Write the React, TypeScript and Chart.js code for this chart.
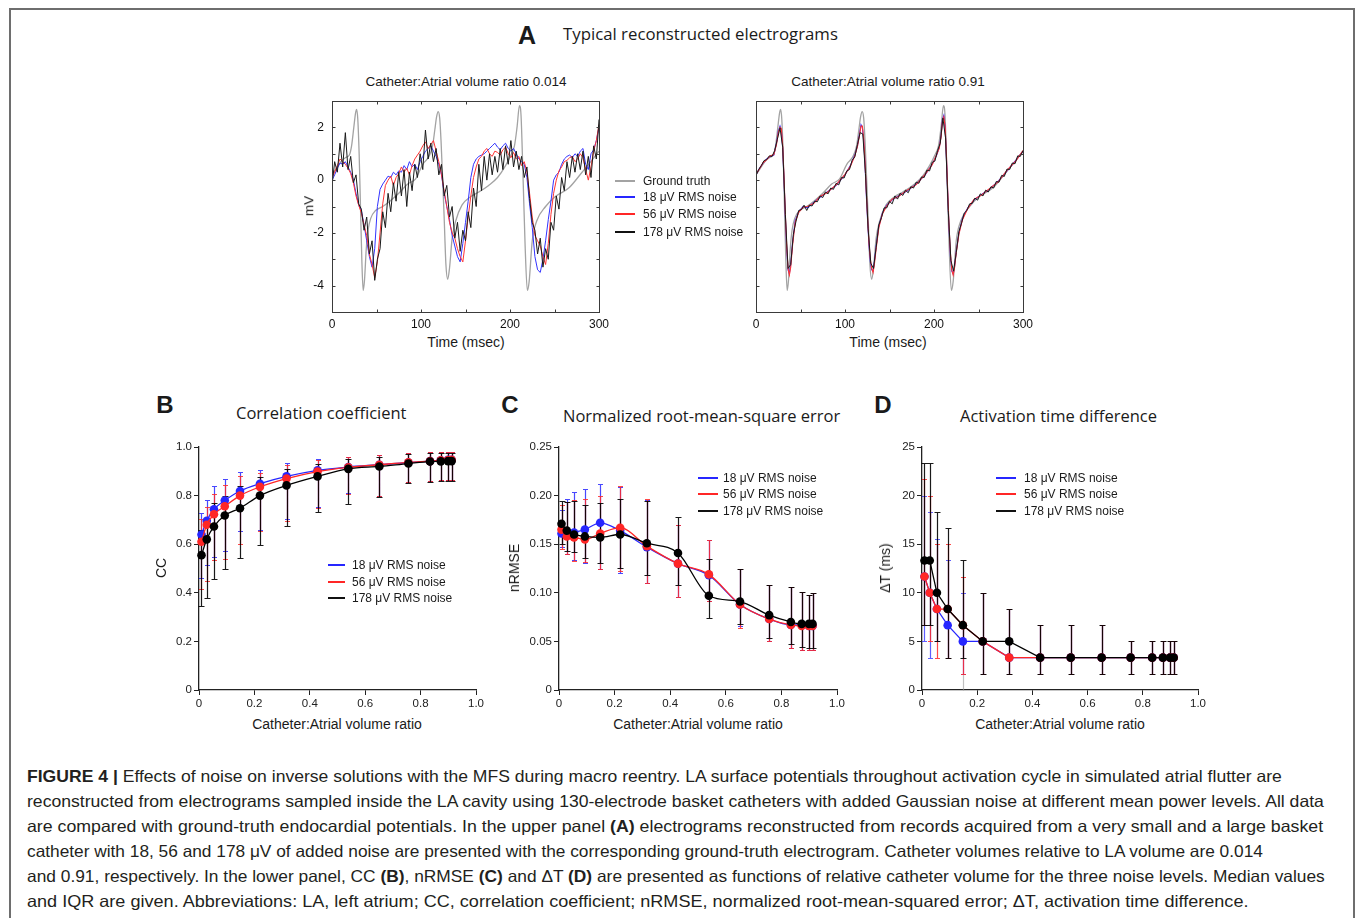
import React, { useEffect, useLayoutEffect, useRef } from "react";
import { Chart, registerables } from "chart.js";
Chart.register(...registerables);

const FONT = '"Liberation Sans", Arial, Helvetica, sans-serif';
const CAPTION_FONT = '"Liberation Sans Narrow", "Liberation Sans", Arial, sans-serif';
const TITLE_FONT = '"Open Sans", "Liberation Sans", Arial, sans-serif';
Chart.defaults.font.family = FONT;

// ---------------- Panel A data ----------------
const SAMPLE_STEP = 3; // ms
const T3 = Array.from({ length: 101 }, (_, i) => i * SAMPLE_STEP);

const gtT = [0, 5, 10, 15, 19.5, 22, 24.5, 26.5, 27.7, 29, 30.5, 32, 33.5, 35, 36.5, 38.5, 40.5, 43.5, 49, 57, 65, 75, 85, 94, 102, 109, 113, 115.5, 117.5, 119.3, 121, 122.5, 124, 126, 128, 130, 132, 135, 139, 146, 155, 165, 176, 186, 195, 201, 205, 208, 210.6, 212.4, 214.5, 217, 219.5, 221.5, 225, 230, 240, 251, 266, 281, 292, 300];
const gtV = [0.2, 0.45, 0.7, 0.85, 0.95, 1.3, 2.0, 2.55, 2.68, 2.3, 1.0, -1.0, -3.0, -4.18, -3.8, -2.6, -1.9, -1.45, -1.15, -1.0, -0.8, -0.5, -0.15, 0.05, 0.6, 0.9, 1.3, 1.9, 2.4, 2.6, 2.35, 1.5, 0.3, -1.4, -3.2, -3.76, -3.35, -2.2, -1.55, -0.95, -0.65, -0.45, -0.2, 0.1, 0.55, 0.95, 1.3, 2.03, 2.82, 2.45, 0.3, -2.5, -4.18, -3.85, -2.3, -1.55, -1.0, -0.62, -0.3, 0.3, 0.75, 1.1];

// small catheter (0.014), sampled every 3 ms
const blueL = [
  0.0, 0.2, 0.45, 0.65, 0.6, 0.7, 0.5, 0.3, 0.0, -0.5,
  -0.95, -1.15, -1.7, -2.3, -2.9, -3.3, -2.6, -1.0, -0.35, -0.15,
  0.0, 0.15, 0.1, 0.3, 0.2, 0.35, 0.3, 0.55, 0.4, 0.7,
  0.5, 0.6, 0.4, 0.7, 0.9, 1.1, 1.2, 1.3, 1.1, 0.9,
  0.6, 0.2, -0.5, -1.0, -1.5, -2.1, -2.5, -2.9, -3.1, -2.4,
  -1.6, -0.8, 0.1, 0.6, 0.8, 0.9, 0.95, 1.0, 1.1, 1.2,
  1.3, 1.4, 1.25, 1.15, 1.3, 1.4, 1.2, 1.1, 1.2, 1.0,
  0.8, 0.7, 0.6, 0.1, -0.9, -1.8, -2.9, -3.4, -3.5, -3.0,
  -2.3, -1.5, -0.8, 0.0, 0.2, 0.3, 0.6, 0.8, 0.9, 0.95,
  0.85, 1.0, 0.9, 1.1, 1.2, 0.6, 0.4, 1.0, 1.15, 1.5,
  2.0,
];
const redL = [
  0.1, 0.3, 0.55, 0.8, 0.7, 0.6, 0.45, 0.25, -0.1, -0.6,
  -0.95, -1.25, -1.7, -2.1, -2.8, -3.2, -3.7, -3.1, -2.0, -0.9,
  -0.2, 0.0, 0.15, -0.2, 0.1, 0.25, 0.5, 0.3, 0.45, 0.2,
  0.55, 0.8, 0.95, 1.1, 1.3, 1.45, 1.2, 1.35, 1.5, 1.1,
  0.7, 0.2, -0.4, -1.0, -1.6, -2.0, -2.2, -2.6, -2.9, -3.1,
  -2.3, -1.4, -0.6, 0.1, 0.5, 0.8, 0.9, 1.1, 1.2, 1.0,
  0.9, 1.1, 1.05, 0.95, 1.15, 1.25, 1.0, 0.85, 1.05, 0.8,
  0.9, 0.55, 0.7, 0.3, -0.5, -1.4, -2.1, -2.3, -2.5, -2.9,
  -3.2, -2.4, -1.3, -0.5, 0.0, 0.35, 0.5, 0.7, 0.75, 0.85,
  0.9, 0.7, 0.8, 1.0, 0.85, 0.4, 0.0, 0.5, 1.1, 1.5,
  2.1,
];
const blackL = [
  -0.2, 0.7, 0.3, 1.4, 0.5, 1.8, 0.4, 0.9, -0.1, 0.2,
  -0.9, -1.1, -1.9, -1.4, -2.8, -2.3, -3.8, -3.0, -2.6, -1.2,
  -1.8, -0.5, -1.2, -0.1, -0.8, 0.3, -0.6, 0.4, -1.0, 0.3,
  -0.4, 0.6, 0.1, 1.0, 0.4, 1.9, 0.8, 1.4, 0.7, 1.2,
  0.2, 0.6, -0.6, -0.2, -1.4, -1.0, -2.2, -1.6, -2.7, -1.9,
  -2.3, -1.2, -1.8, -0.3, -1.0, 0.6, -0.4, 0.9, 0.0, 1.0,
  0.2, 0.9, 0.3, 1.2, 0.4, 1.3, 0.6, 1.5, 0.5, 1.1,
  0.4, 0.9, 0.1, 0.5, -0.7, -1.6, -1.9, -2.8, -2.2, -3.3,
  -2.6, -3.0, -1.6, -1.9, -0.6, -1.1, 0.1, -0.4, 0.7, 0.1,
  0.9, 0.3, 1.0, 0.4, 1.1, 0.2, 0.9, 0.1, 1.3, 0.8,
  2.3,
];

// large catheter (0.91)
const rightT = [
  0, 4, 8, 12, 16, 20, 23, 25, 27, 28.5,
  30, 31.5, 33, 34.5, 36, 37.5, 39, 41, 44, 48,
  53, 58, 65, 72, 80, 90, 100, 106, 111, 114,
  116, 118, 119.5, 121, 122.5, 124, 125.5, 127, 128.5, 130,
  131.5, 133, 135, 138, 142, 147, 153, 160, 170, 180,
  190, 198, 203, 206, 208, 209.5, 211, 212.5, 214, 215.5,
  217, 218.5, 220, 221.5, 223, 225, 228, 232, 238, 245,
  253, 262, 272, 282, 292, 300,
];
const blueR = [
  0.2, 0.45, 0.65, 0.8, 0.9, 0.95, 1.4, 1.85, 2.05, 1.9,
  1.2, 0.0, -1.4, -2.6, -3.4, -3.55, -3.2, -2.4, -1.55, -1.2,
  -1.0, -1.05, -0.85, -0.65, -0.45, -0.2, 0.2, 0.55, 0.95, 1.3,
  1.7, 2.1, 2.0, 1.5, 0.6, -0.6, -1.6, -2.5, -3.1, -3.4,
  -3.45, -3.1, -2.5, -1.75, -1.25, -0.95, -0.75, -0.6, -0.4, -0.15,
  0.2, 0.6, 0.95, 1.25, 1.7, 2.3, 2.45, 2.0, 0.8, -0.6,
  -1.9, -2.9, -3.45, -3.55, -3.3, -2.7, -2.0, -1.45, -1.05, -0.75,
  -0.55, -0.35, -0.05, 0.35, 0.75, 1.1,
];
const redR = [
  0.22, 0.43, 0.66, 0.78, 0.92, 0.97, 1.35, 1.8, 2.0, 1.95,
  1.3, 0.1, -1.3, -2.5, -3.35, -3.6, -3.3, -2.5, -1.6, -1.22,
  -1.02, -1.0, -0.88, -0.62, -0.47, -0.18, 0.22, 0.52, 0.92, 1.28,
  1.65, 2.05, 2.05, 1.6, 0.7, -0.5, -1.5, -2.4, -3.0, -3.35,
  -3.5, -3.2, -2.6, -1.8, -1.28, -0.97, -0.72, -0.62, -0.38, -0.17,
  0.22, 0.58, 0.97, 1.22, 1.65, 2.25, 2.4, 2.05, 0.9, -0.5,
  -1.8, -2.8, -3.4, -3.6, -3.35, -2.75, -2.05, -1.5, -1.07, -0.73,
  -0.57, -0.33, -0.07, 0.37, 0.73, 1.12,
];
const blackR = [
  0.18, 0.4, 0.55, 0.74, 0.78, 0.92, 0.9, 1.12, 1.55, 1.98,
  1.25, -1.3, -3.35, -3.2, -2.05, -1.55, -1.15, -1.12, -0.95, -1.15,
  -0.95, -0.98, -0.8, -0.82, -0.6, -0.66, -0.45, -0.52, -0.3, -0.35,
  -0.12, -0.18, 0.1, 0.08, 0.35, 0.4, 0.75, 0.88, 1.35, 1.8,
  1.75, 0.25, -1.85, -3.15, -3.35, -2.55, -1.7, -1.42, -1.05, -1.05,
  -0.8, -0.9, -0.6, -0.72, -0.5, -0.58, -0.38, -0.48, -0.25, -0.3,
  -0.08, -0.12, 0.12, 0.1, 0.38, 0.35, 0.68, 0.72, 1.12, 1.4,
  2.35, 1.6, -1.15, -3.05, -3.45, -2.75, -1.95, -1.62, -1.25, -1.15,
  -0.9, -0.88, -0.68, -0.76, -0.52, -0.6, -0.38, -0.45, -0.25, -0.3,
  -0.05, -0.08, 0.18, 0.14, 0.42, 0.4, 0.65, 0.62, 0.92, 0.9,
  1.12,
];
const topXTicks = [0, 50, 100, 150, 200, 250, 300];
const topYTicks = [-5, -4, -3, -2, -1, 0, 1, 2, 3];

// ---------------- Panels B, C, D data ----------------
const volRatio = [0.009, 0.028, 0.054, 0.093, 0.148, 0.22, 0.316, 0.428, 0.539, 0.651, 0.756, 0.834, 0.873, 0.899, 0.912];

const ccBlue = [0.64, 0.696, 0.744, 0.78, 0.819, 0.849, 0.879, 0.904, 0.918, 0.927, 0.936, 0.942, 0.945, 0.947, 0.947];
const ccRed = [0.61, 0.68, 0.723, 0.756, 0.8, 0.836, 0.87, 0.899, 0.916, 0.927, 0.937, 0.942, 0.945, 0.946, 0.947];
const ccBlack = [0.555, 0.62, 0.673, 0.718, 0.748, 0.8, 0.842, 0.879, 0.91, 0.92, 0.932, 0.94, 0.941, 0.942, 0.942];
const ccBlueLo = [0.46, 0.515, 0.548, 0.57, 0.653, 0.66, 0.705, 0.755, 0.81, 0.8, 0.855, 0.86, 0.865, 0.865, 0.865];
const ccBlueHi = [0.73, 0.78, 0.838, 0.87, 0.897, 0.905, 0.935, 0.95, 0.96, 0.968, 0.975, 0.98, 0.98, 0.98, 0.98];
const ccRedLo = [0.415, 0.45, 0.535, 0.54, 0.6, 0.655, 0.695, 0.75, 0.805, 0.8, 0.855, 0.86, 0.865, 0.865, 0.865];
const ccRedHi = [0.705, 0.755, 0.805, 0.845, 0.88, 0.895, 0.925, 0.945, 0.958, 0.968, 0.975, 0.98, 0.98, 0.98, 0.98];
const ccBlackLo = [0.347, 0.38, 0.455, 0.5, 0.545, 0.595, 0.673, 0.733, 0.765, 0.795, 0.85, 0.858, 0.862, 0.862, 0.862];
const ccBlackHi = [0.66, 0.7, 0.77, 0.8, 0.84, 0.878, 0.91, 0.93, 0.95, 0.96, 0.97, 0.975, 0.975, 0.975, 0.975];

const nrBlue = [0.161, 0.159, 0.162, 0.165, 0.172, 0.164, 0.147, 0.13, 0.118, 0.088, 0.073, 0.067, 0.067, 0.066, 0.066];
const nrRed = [0.165, 0.158, 0.157, 0.155, 0.161, 0.167, 0.148, 0.13, 0.119, 0.088, 0.073, 0.067, 0.066, 0.066, 0.066];
const nrBlack = [0.171, 0.164, 0.16, 0.158, 0.157, 0.16, 0.151, 0.141, 0.097, 0.091, 0.077, 0.07, 0.068, 0.068, 0.068];
const nrBlueLo = [0.147, 0.14, 0.134, 0.131, 0.125, 0.12, 0.11, 0.096, 0.092, 0.066, 0.05, 0.043, 0.041, 0.041, 0.041];
const nrBlueHi = [0.185, 0.197, 0.204, 0.207, 0.212, 0.209, 0.195, 0.17, 0.154, 0.125, 0.108, 0.106, 0.101, 0.098, 0.1];
const nrRedLo = [0.145, 0.14, 0.133, 0.132, 0.125, 0.122, 0.11, 0.096, 0.092, 0.064, 0.05, 0.043, 0.041, 0.041, 0.041];
const nrRedHi = [0.19, 0.193, 0.195, 0.196, 0.2, 0.21, 0.196, 0.17, 0.154, 0.125, 0.108, 0.106, 0.101, 0.098, 0.1];
const nrBlackLo = [0.15, 0.143, 0.142, 0.136, 0.131, 0.126, 0.118, 0.108, 0.074, 0.068, 0.054, 0.047, 0.044, 0.043, 0.043];
const nrBlackHi = [0.194, 0.193, 0.194, 0.19, 0.192, 0.197, 0.194, 0.178, 0.135, 0.125, 0.108, 0.106, 0.101, 0.098, 0.1];

const dtBlue = [11.67, 10, 8.33, 6.67, 5, 5, 3.33, 3.33, 3.33, 3.33, 3.33, 3.33, 3.33, 3.33, 3.33];
const dtRed = [11.67, 10, 8.33, 8.33, 6.67, 5, 3.33, 3.33, 3.33, 3.33, 3.33, 3.33, 3.33, 3.33, 3.33];
const dtBlack = [13.33, 13.33, 10, 8.33, 6.67, 5, 5, 3.33, 3.33, 3.33, 3.33, 3.33, 3.33, 3.33, 3.33];
const dtBlueLo = [5, 3.33, 5, 3.33, 1.67, 1.67, 1.67, 1.67, 1.67, 1.67, 1.67, 1.67, 1.67, 1.67, 1.67];
const dtBlueHi = [20, 18.33, 15.5, 13.33, 10, 10, 8.33, 6.67, 6.67, 6.67, 5, 5, 5, 5, 5];
const dtRedLo = [6.67, 5, 3.33, 3.33, 1.67, 1.67, 1.67, 1.67, 1.67, 1.67, 1.67, 1.67, 1.67, 1.67, 1.67];
const dtRedHi = [21.67, 20, 15, 15, 11.67, 10, 8.33, 6.67, 6.67, 6.67, 5, 5, 5, 5, 5];
const dtBlackLo = [6.67, 6.67, 5, 3.33, 3.33, 1.67, 1.67, 1.67, 1.67, 1.67, 1.67, 1.67, 1.67, 1.67, 1.67];
const dtBlackHi = [23.33, 23.33, 18.33, 16.67, 13.33, 10, 8.33, 6.67, 6.67, 6.67, 5, 5, 5, 5, 5];
// faint whisker of the 18 µV series reaching zero at ratio 0.148
const dtFaintX = [0.148];
const dtFaintLo = [0];
const dtFaintHi = [1.67];

const noiseLabels = ["18 μV RMS noise", "56 μV RMS noise", "178 μV RMS noise"];

// ---------------- styles ----------------
const C_BLUE = "#2626ff";
const C_RED = "#ff2626";
const C_BLACK = "#000000";
const C_GRAY = "#a3a3a3";
const TXT = "#1a1a1a";

// ---------------- helpers ----------------
function pts(xs: number[], ys: number[]) {
  return xs.map((x, i) => ({ x, y: ys[i] }));
}

function framePlugin(xt: number[], yt: number[]) {
  return {
    id: "frameTicks",
    afterDraw(chart: any) {
      const { ctx, chartArea: a, scales } = chart;
      const x = scales.x, y = scales.y;
      ctx.save();
      ctx.strokeStyle = "#3a3a3a";
      ctx.lineWidth = 1;
      const L = Math.round(a.left) + 0.5, R = Math.round(a.right) + 0.5;
      const T = Math.round(a.top) + 0.5, B = Math.round(a.bottom) + 0.5;
      ctx.strokeRect(L, T, R - L, B - T);
      ctx.beginPath();
      for (const v of xt) {
        const px = Math.round(x.getPixelForValue(v)) + 0.5;
        ctx.moveTo(px, B); ctx.lineTo(px, B - 3);
        ctx.moveTo(px, T); ctx.lineTo(px, T + 3);
      }
      for (const v of yt) {
        const py = Math.round(y.getPixelForValue(v)) + 0.5;
        ctx.moveTo(L, py); ctx.lineTo(L + 3, py);
        ctx.moveTo(R, py); ctx.lineTo(R - 3, py);
      }
      ctx.stroke();
      ctx.restore();
    },
  };
}

type Bar = { color: string; xs: number[]; low: number[]; high: number[]; cap: number };
function errPlugin(bars: Bar[]) {
  return {
    id: "errBars",
    beforeDatasetsDraw(chart: any) {
      const { ctx, scales } = chart;
      const x = scales.x, y = scales.y;
      ctx.save();
      ctx.lineWidth = 1.2;
      for (const b of bars) {
        ctx.strokeStyle = b.color;
        ctx.beginPath();
        b.xs.forEach((xv, i) => {
          const px = Math.round(x.getPixelForValue(xv)) + 0.5;
          const lo = Math.round(y.getPixelForValue(b.low[i])) + 0.5;
          const hi = Math.round(y.getPixelForValue(b.high[i])) + 0.5;
          ctx.moveTo(px, lo); ctx.lineTo(px, hi);
          if (b.cap > 0) {
            ctx.moveTo(px - b.cap, lo); ctx.lineTo(px + b.cap, lo);
            ctx.moveTo(px - b.cap, hi); ctx.lineTo(px + b.cap, hi);
          }
        });
        ctx.stroke();
      }
      ctx.restore();
    },
  };
}

function topScales(showY: boolean, wy: number) {
  const font = { size: 12, family: FONT };
  return {
    x: {
      type: "linear", min: 0, max: 300,
      afterFit: (s: any) => { s.height = 22; },
      grid: { display: false, drawTicks: true, tickLength: 5 }, border: { display: false },
      ticks: { stepSize: 100, autoSkip: false, maxRotation: 0, font, color: "#111", padding: 0 },
    },
    y: {
      type: "linear", min: -5, max: 3,
      afterFit: (s: any) => { s.width = wy; },
      grid: { display: false, drawTicks: true, tickLength: 8 }, border: { display: false },
      ticks: {
        display: showY, stepSize: 1, autoSkip: false, font, color: "#111", padding: 0,
        callback: (v: any) => (Math.round(Number(v)) % 2 === 0 ? String(Math.round(Number(v))) : ""),
      },
    },
  };
}

function bottomScales(ymax: number, ystep: number, yfmt: (v: number) => string, wy: number) {
  const font = { size: 11.5, family: FONT };
  const grid = { display: true, drawOnChartArea: false, drawTicks: true, tickLength: 5, color: "#222", lineWidth: 1 };
  const border = { display: true, color: "#222", width: 1.3 };
  return {
    x: {
      type: "linear", min: 0, max: 1,
      afterFit: (s: any) => { s.height = 25; },
      grid, border,
      ticks: {
        stepSize: 0.2, autoSkip: false, maxRotation: 0, font, color: "#222", padding: 2,
        callback: (v: any) => (Number(v) === 0 ? "0" : Number(v).toFixed(1)),
      },
    },
    y: {
      type: "linear", min: 0, max: ymax,
      afterFit: (s: any) => { s.width = wy; },
      grid, border,
      ticks: { stepSize: ystep, autoSkip: false, font, color: "#222", padding: 2, callback: (v: any) => yfmt(Number(v)) },
    },
  };
}

function traceDS(label: string, data: any[], color: string, width: number, smooth = false) {
  return {
    label, data, borderColor: color, backgroundColor: color, borderWidth: width,
    pointRadius: 0, tension: 0, cubicInterpolationMode: smooth ? "monotone" : "default",
  };
}

function markDS(label: string, ys: number[], color: string, smooth: boolean) {
  return {
    label, data: pts(volRatio, ys), borderColor: color, backgroundColor: color, borderWidth: 1.3,
    pointRadius: 4.3, pointHoverRadius: 4.3, pointBorderWidth: 0, tension: 0,
    cubicInterpolationMode: smooth ? "monotone" : "default", clip: false,
  };
}

function baseOptions(scales: any, padTop: number) {
  return {
    responsive: false, animation: false, devicePixelRatio: 1,
    events: [],
    layout: { padding: { left: 0, right: 14, top: padTop, bottom: 0 } },
    plugins: { legend: { display: false }, tooltip: { enabled: false } },
    scales,
  };
}

function ChartBox(props: { left: number; top: number; width: number; height: number; make: () => any }) {
  const ref = useRef<HTMLCanvasElement>(null);
  useEffect(() => {
    const chart = new Chart(ref.current as HTMLCanvasElement, props.make());
    return () => chart.destroy();
  }, []);
  return (
    <canvas
      ref={ref}
      width={props.width}
      height={props.height}
      style={{ position: "absolute", left: props.left, top: props.top, width: props.width, height: props.height }}
    />
  );
}

function Txt(props: { x: number; y: number; children: any; size?: number; bold?: boolean; family?: string; anchor?: "center" | "left"; rotate?: boolean }) {
  const { x, y, size = 14, bold = false, family = FONT, anchor = "center", rotate = false } = props;
  const tx = anchor === "center" ? "-50%" : "0";
  return (
    <div
      style={{
        position: "absolute", left: x, top: y, whiteSpace: "nowrap", lineHeight: 1,
        fontFamily: family, fontSize: size, fontWeight: bold ? 700 : 400, color: TXT,
        transform: `translate(${tx}, -50%)${rotate ? " rotate(-90deg)" : ""}`,
        transformOrigin: anchor === "center" ? "center" : "left center",
      }}
    >
      {props.children}
    </div>
  );
}

function Legend(props: { lineX: number; lineW: number; textX: number; rows: { label: string; color: string; y: number }[] }) {
  return (
    <>
      {props.rows.map((r, i) => (
        <React.Fragment key={i}>
          <div style={{ position: "absolute", left: props.lineX, top: Math.round(r.y) - 1, width: props.lineW, height: 2, background: r.color }} />
          <div style={{ position: "absolute", left: props.textX, top: r.y - 8, height: 16, lineHeight: "16px", fontFamily: FONT, fontSize: 12, color: TXT, whiteSpace: "nowrap" }}>
            {r.label}
          </div>
        </React.Fragment>
      ))}
    </>
  );
}

const CAPTION_LEFT = 27;
const CAPTION_RIGHT = [1282, 1324, 1323, 1263, 1325, 1249];
const CAPTION_Y = [776, 801, 826, 851, 876, 901];

export default function App() {
  const capRefs = useRef<(HTMLDivElement | null)[]>([]);
  useLayoutEffect(() => {
    capRefs.current.forEach((el, i) => {
      if (!el) return;
      const w = el.offsetWidth;
      if (w > 0) el.style.transform = `scaleX(${(CAPTION_RIGHT[i] - CAPTION_LEFT) / w})`;
    });
  }, []);

  const makeTL = () => ({
    type: "line",
    data: {
      datasets: [
        traceDS("178 μV RMS noise", pts(T3, blackL), "#1a1a1a", 1),
        traceDS("56 μV RMS noise", pts(T3, redL), "#ff3333", 1),
        traceDS("18 μV RMS noise", pts(T3, blueL), "#3333ff", 1),
        traceDS("Ground truth", pts(gtT, gtV), C_GRAY, 1.3, true),
      ],
    },
    options: baseOptions(topScales(true, 42), 9) as any,
    plugins: [framePlugin(topXTicks, topYTicks)],
  });

  const makeTR = () => ({
    type: "line",
    data: {
      datasets: [
        traceDS("178 μV RMS noise", pts(T3, blackR), "#1a1a1a", 1),
        traceDS("56 μV RMS noise", pts(rightT, redR), "#ff3333", 1.1),
        traceDS("18 μV RMS noise", pts(rightT, blueR), "#3333ff", 1.1),
        traceDS("Ground truth", pts(gtT, gtV), C_GRAY, 1.3, true),
      ],
    },
    options: baseOptions(topScales(false, 16), 9) as any,
    plugins: [framePlugin(topXTicks, topYTicks)],
  });

  const makeB = () => ({
    type: "line",
    data: {
      datasets: [
        markDS(noiseLabels[2], ccBlack, C_BLACK, true),
        markDS(noiseLabels[1], ccRed, C_RED, true),
        markDS(noiseLabels[0], ccBlue, C_BLUE, true),
      ],
    },
    options: baseOptions(bottomScales(1, 0.2, (v) => (v === 0 ? "0" : v.toFixed(1)), 54), 11),
    plugins: [
      errPlugin([
        { color: "rgba(40,40,255,0.85)", xs: volRatio, low: ccBlueLo, high: ccBlueHi, cap: 2.5 },
        { color: "rgba(255,40,40,0.85)", xs: volRatio, low: ccRedLo, high: ccRedHi, cap: 2.5 },
        { color: "rgba(0,0,0,0.9)", xs: volRatio, low: ccBlackLo, high: ccBlackHi, cap: 3 },
      ]),
    ],
  });

  const makeC = () => ({
    type: "line",
    data: {
      datasets: [
        markDS(noiseLabels[2], nrBlack, C_BLACK, true),
        markDS(noiseLabels[1], nrRed, C_RED, true),
        markDS(noiseLabels[0], nrBlue, C_BLUE, true),
      ],
    },
    options: baseOptions(bottomScales(0.25, 0.05, (v) => (v === 0 ? "0" : v.toFixed(2)), 59), 11),
    plugins: [
      errPlugin([
        { color: "rgba(40,40,255,0.85)", xs: volRatio, low: nrBlueLo, high: nrBlueHi, cap: 2.5 },
        { color: "rgba(255,40,40,0.85)", xs: volRatio, low: nrRedLo, high: nrRedHi, cap: 2.5 },
        { color: "rgba(0,0,0,0.9)", xs: volRatio, low: nrBlackLo, high: nrBlackHi, cap: 3 },
      ]),
    ],
  });

  const makeD = () => ({
    type: "line",
    data: {
      datasets: [
        markDS(noiseLabels[2], dtBlack, C_BLACK, false),
        markDS(noiseLabels[1], dtRed, C_RED, false),
        markDS(noiseLabels[0], dtBlue, C_BLUE, false),
      ],
    },
    options: baseOptions(bottomScales(25, 5, (v) => String(Math.round(v)), 57), 11),
    plugins: [
      errPlugin([
        { color: "rgba(150,150,150,0.6)", xs: dtFaintX, low: dtFaintLo, high: dtFaintHi, cap: 0 },
        { color: "rgba(40,40,255,0.75)", xs: volRatio, low: dtBlueLo, high: dtBlueHi, cap: 2.5 },
        { color: "rgba(255,40,40,0.85)", xs: volRatio, low: dtRedLo, high: dtRedHi, cap: 2.5 },
        { color: "rgba(0,0,0,0.9)", xs: volRatio, low: dtBlackLo, high: dtBlackHi, cap: 3 },
      ]),
    ],
  });

  const legendRows = (ys: number[]) => [
    { label: noiseLabels[0], color: C_BLUE, y: ys[0] },
    { label: noiseLabels[1], color: C_RED, y: ys[1] },
    { label: noiseLabels[2], color: "#111", y: ys[2] },
  ];

  const bold = (s: string) => <span style={{ fontWeight: 700 }}>{s}</span>;
  const captionLines: any[] = [
    <>{bold("FIGURE 4 | ")}Effects of noise on inverse solutions with the MFS during macro reentry. LA surface potentials throughout activation cycle in simulated atrial flutter are</>,
    <>reconstructed from electrograms sampled inside the LA cavity using 130-electrode basket catheters with added Gaussian noise at different mean power levels. All data</>,
    <>are compared with ground-truth endocardial potentials. In the upper panel {bold("(A)")} electrograms reconstructed from records acquired from a very small and a large basket</>,
    <>catheter with 18, 56 and 178 μV of added noise are presented with the corresponding ground-truth electrogram. Catheter volumes relative to LA volume are 0.014</>,
    <>and 0.91, respectively. In the lower panel, CC {bold("(B)")}, nRMSE {bold("(C)")} and ΔT {bold("(D)")} are presented as functions of relative catheter volume for the three noise levels. Median values</>,
    <>and IQR are given. Abbreviations: LA, left atrium; CC, correlation coefficient; nRMSE, normalized root-mean-squared error; ΔT, activation time difference.</>,
  ];

  return (
    <div style={{ position: "absolute", left: 0, top: 0, width: 1355, height: 918, overflow: "hidden", background: "#fff" }}>
      <div style={{ position: "absolute", left: 9, top: 8, width: 1346, height: 1000, boxSizing: "border-box", borderTop: "2px solid #6e6e6e", borderLeft: "2px solid #6e6e6e", borderRight: "2px solid #6e6e6e" }} />

      {/* Panel A */}
      <Txt x={527} y={35} size={25} bold>A</Txt>
      <Txt x={563} y={34} size={16.8} family={TITLE_FONT} anchor="left">Typical reconstructed electrograms</Txt>
      <Txt x={466} y={82} size={13.5}>Catheter:Atrial volume ratio 0.014</Txt>
      <Txt x={888} y={82} size={13.5}>Catheter:Atrial volume ratio 0.91</Txt>
      <ChartBox left={290} top={92} width={323} height={242} make={makeTL} />
      <ChartBox left={740} top={92} width={297} height={242} make={makeTR} />
      <Txt x={309} y={206} size={13.5} rotate>mV</Txt>
      <Txt x={466} y={342} size={14}>Time (msec)</Txt>
      <Txt x={888} y={342} size={14}>Time (msec)</Txt>
      <Legend
        lineX={615} lineW={20} textX={643}
        rows={[
          { label: "Ground truth", color: C_GRAY, y: 180.7 },
          { label: noiseLabels[0], color: C_BLUE, y: 197.3 },
          { label: noiseLabels[1], color: C_RED, y: 214 },
          { label: noiseLabels[2], color: "#111", y: 231.7 },
        ]}
      />

      {/* Panel B */}
      <Txt x={165} y={405} size={24} bold>B</Txt>
      <Txt x={236} y={413} size={16.5} family={TITLE_FONT} anchor="left">Correlation coefficient</Txt>
      <ChartBox left={145} top={436} width={345} height={279} make={makeB} />
      <Txt x={161} y={568} size={14} rotate>CC</Txt>
      <Txt x={337} y={724} size={14}>Catheter:Atrial volume ratio</Txt>
      <Legend lineX={328} lineW={17} textX={352} rows={legendRows([565, 581.7, 598.3])} />

      {/* Panel C */}
      <Txt x={510} y={405} size={24} bold>C</Txt>
      <Txt x={563} y={416} size={16.5} family={TITLE_FONT} anchor="left">Normalized root-mean-square error</Txt>
      <ChartBox left={500} top={436} width={351} height={279} make={makeC} />
      <Txt x={514} y={568} size={14} rotate>nRMSE</Txt>
      <Txt x={698} y={724} size={14}>Catheter:Atrial volume ratio</Txt>
      <Legend lineX={698} lineW={20} textX={723} rows={legendRows([477.7, 494, 511.3])} />

      {/* Panel D */}
      <Txt x={883} y={405} size={24} bold>D</Txt>
      <Txt x={960} y={416} size={16.5} family={TITLE_FONT} anchor="left">Activation time difference</Txt>
      <ChartBox left={865} top={436} width={347} height={279} make={makeD} />
      <Txt x={885} y={568} size={14} rotate>ΔT (ms)</Txt>
      <Txt x={1060} y={724} size={14}>Catheter:Atrial volume ratio</Txt>
      <Legend lineX={996} lineW={20} textX={1024} rows={legendRows([477.7, 494, 511.3])} />

      {/* Caption */}
      {captionLines.map((line, i) => (
        <div
          key={i}
          ref={(el) => { capRefs.current[i] = el; }}
          style={{
            position: "absolute", left: CAPTION_LEFT, top: CAPTION_Y[i] - 11, height: 22, lineHeight: "22px",
            display: "inline-block", whiteSpace: "nowrap", fontFamily: CAPTION_FONT, fontSize: 16.5, color: "#231f20",
            transformOrigin: "left center",
          }}
        >
          {line}
        </div>
      ))}
    </div>
  );
}
